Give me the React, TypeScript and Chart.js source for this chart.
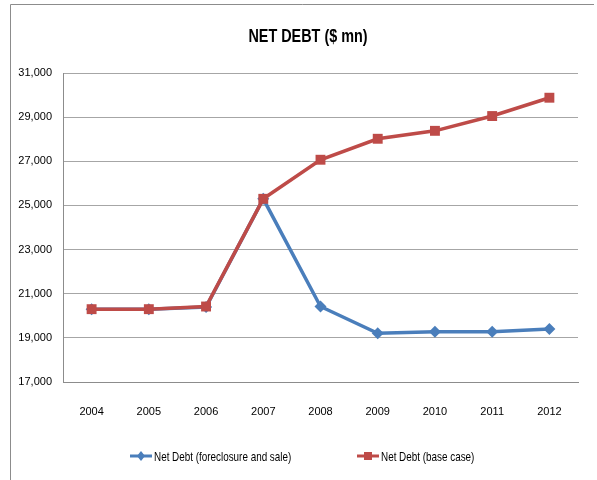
import React, { useEffect, useRef } from "react";
import { Chart, registerables } from "chart.js";

Chart.register(...registerables);

const years = ["2004", "2005", "2006", "2007", "2008", "2009", "2010", "2011", "2012"];
const foreclosureSale = [20300, 20300, 20400, 25300, 20420, 19210, 19280, 19280, 19400];
const baseCase = [20300, 20300, 20420, 25300, 27070, 28020, 28380, 29050, 29880];
const seriesNames = ["Net Debt (foreclosure and sale)", "Net Debt (base case)"];
const titleText = "NET DEBT ($ mn)";
const yMin = 17000;
const yMax = 31000;
const yStep = 2000;

const BLUE = "#4A7EBB";
const RED = "#BE4B48";
const FONT = "'Liberation Sans', Arial, sans-serif";

function condensedText(ctx: any, text: string, x: number, y: number, sx: number, align: string) {
  ctx.save();
  ctx.translate(x, y);
  ctx.scale(sx, 1);
  ctx.textAlign = align;
  ctx.fillText(text, 0, 0);
  ctx.restore();
}

const decorPlugin = {
  id: "decor",
  afterDraw(chart: any) {
    const ctx = chart.ctx;
    ctx.save();
    ctx.strokeStyle = "#8c8c8c";
    ctx.lineWidth = 1;
    ctx.beginPath();
    ctx.moveTo(10.5, 480);
    ctx.lineTo(10.5, 4.5);
    ctx.lineTo(594, 4.5);
    ctx.stroke();
    ctx.fillStyle = "#000";
    ctx.font = `bold 18px ${FONT}`;
    ctx.textBaseline = "middle";
    condensedText(ctx, titleText, 308, 37, 0.8, "center");
    const items = [
      { x: 130, color: BLUE, style: "diamond", text: seriesNames[0] },
      { x: 357, color: RED, style: "square", text: seriesNames[1] },
    ];
    const ly = 456;
    ctx.font = `13px ${FONT}`;
    for (const it of items) {
      ctx.strokeStyle = it.color;
      ctx.lineWidth = 3;
      ctx.beginPath();
      ctx.moveTo(it.x, ly);
      ctx.lineTo(it.x + 22, ly);
      ctx.stroke();
      ctx.fillStyle = it.color;
      const cx = it.x + 11;
      if (it.style === "diamond") {
        ctx.beginPath();
        ctx.moveTo(cx, ly - 5);
        ctx.lineTo(cx + 4, ly);
        ctx.lineTo(cx, ly + 5);
        ctx.lineTo(cx - 4, ly);
        ctx.closePath();
        ctx.fill();
      } else {
        ctx.fillRect(cx - 4, ly - 4, 8, 8);
      }
      ctx.fillStyle = "#000";
      condensedText(ctx, it.text, it.x + 24, ly + 1, 0.76, "left");
    }
    ctx.restore();
  },
};

export default function App() {
  const canvasRef = useRef<HTMLCanvasElement>(null);

  useEffect(() => {
    if (!canvasRef.current) return;
    const chart = new Chart(canvasRef.current, {
      type: "line",
      data: {
        labels: years,
        datasets: [
          {
            label: seriesNames[0],
            data: foreclosureSale,
            borderColor: BLUE,
            backgroundColor: BLUE,
            borderWidth: 3.5,
            pointStyle: "rectRot",
            pointRadius: 6,
            pointHoverRadius: 6,
            pointBorderWidth: 0,
            tension: 0,
            order: 1,
          },
          {
            label: seriesNames[1],
            data: baseCase,
            borderColor: RED,
            backgroundColor: RED,
            borderWidth: 3.5,
            pointStyle: "rect",
            pointRadius: 7,
            pointHoverRadius: 7,
            pointBorderWidth: 0,
            tension: 0,
            order: 0,
          },
        ],
      },
      options: {
        animation: false,
        responsive: false,
        maintainAspectRatio: false,
        layout: { padding: { top: 73, right: 19, bottom: 0, left: 0 } },
        plugins: {
          legend: { display: false },
          title: { display: false },
          tooltip: { enabled: false },
        },
        scales: {
          x: {
            offset: true,
            grid: { display: false, drawTicks: false },
            border: { display: true, color: "#8c8c8c", width: 1 },
            ticks: { color: "#000", font: { family: FONT, size: 11 }, padding: 23, maxRotation: 0 },
            afterFit: (s: any) => {
              s.height = 98;
            },
          },
          y: {
            min: yMin,
            max: yMax,
            grid: { color: "#a6a6a6", lineWidth: 1, drawTicks: false },
            border: { display: true, color: "#8c8c8c", width: 1 },
            ticks: {
              stepSize: yStep,
              color: "#000",
              padding: 11,
              font: { family: FONT, size: 11 },
              callback: (v: any) => Number(v).toLocaleString("en-US"),
            },
            afterFit: (s: any) => {
              s.width = 63;
            },
          },
        },
      },
      plugins: [decorPlugin],
    });
    return () => chart.destroy();
  }, []);

  return (
    <div style={{ position: "absolute", left: 0, top: 0, width: 597, height: 480, background: "#fff" }}>
      <canvas ref={canvasRef} width={597} height={480} style={{ display: "block" }} />
    </div>
  );
}
